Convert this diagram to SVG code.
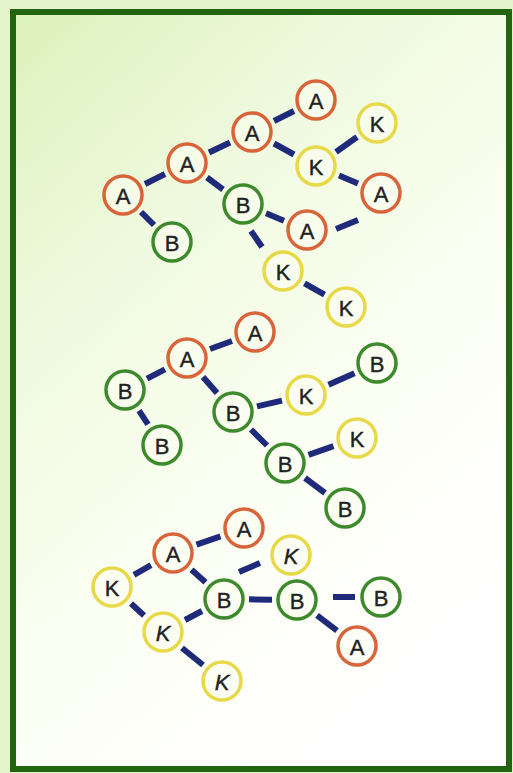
<svg xmlns="http://www.w3.org/2000/svg" width="513" height="773" viewBox="0 0 513 773">
<defs>
<linearGradient id="bg" x1="0" y1="0" x2="0.6" y2="1">
<stop offset="0" stop-color="#dcf2bb"/>
<stop offset="0.35" stop-color="#f0fae0"/>
<stop offset="0.7" stop-color="#fcfff4"/>
<stop offset="1" stop-color="#ffffff"/>
</linearGradient>
<style>
.n circle{stroke-width:3.5;fill:#fbfdf0;fill-opacity:0.6}
.a circle{stroke:#d9643a}
.b circle{stroke:#3d8a2c}
.k circle{stroke:#e8d948}
.n text{font-family:"Liberation Sans",Arial,sans-serif;font-size:22px;fill:#222;stroke:#222;stroke-width:0.4;text-anchor:middle;dominant-baseline:central}
.i text{font-style:italic}
#edges line{stroke:#1f2a7a;stroke-width:6;stroke-linecap:butt}
</style>
</defs>
<rect x="0" y="0" width="513" height="773" fill="#e4f5cc"/>
<rect x="13" y="12" width="496" height="757" fill="url(#bg)" stroke="#236410" stroke-width="6"/>
<g id="edges">
<!-- tree 1 -->
<line x1="145" y1="184" x2="165" y2="174"/>
<line x1="141" y1="212" x2="154" y2="225"/>
<line x1="209" y1="152.5" x2="230" y2="142.5"/>
<line x1="207" y1="177.5" x2="223" y2="189.5"/>
<line x1="274" y1="121" x2="294" y2="111"/>
<line x1="274" y1="143.5" x2="294" y2="154.5"/>
<line x1="336" y1="152" x2="357" y2="137"/>
<line x1="339" y1="175.5" x2="358" y2="183.5"/>
<line x1="266" y1="213.3" x2="284" y2="220.7"/>
<line x1="251" y1="231" x2="262" y2="247"/>
<line x1="336" y1="229" x2="358" y2="220"/>
<line x1="304.5" y1="283.3" x2="324.5" y2="294.7"/>
<!-- tree 2 -->
<line x1="210" y1="349" x2="232" y2="341"/>
<line x1="165" y1="369.3" x2="147" y2="378.7"/>
<line x1="139" y1="410.7" x2="148" y2="424.3"/>
<line x1="203" y1="377" x2="217" y2="393"/>
<line x1="257" y1="406.4" x2="282" y2="400.6"/>
<line x1="328.5" y1="384.8" x2="354.5" y2="373.2"/>
<line x1="251" y1="429.5" x2="267" y2="445.5"/>
<line x1="308.5" y1="454.8" x2="333.5" y2="446.2"/>
<line x1="305" y1="478" x2="325" y2="493"/>
<!-- tree 3 -->
<line x1="134" y1="574.8" x2="151" y2="565.2"/>
<line x1="196.5" y1="544.7" x2="220.5" y2="536.3"/>
<line x1="191.5" y1="569.7" x2="205.5" y2="582.3"/>
<line x1="239" y1="572" x2="260" y2="563"/>
<line x1="249" y1="599.3" x2="272" y2="599.7"/>
<line x1="333" y1="597" x2="355" y2="597"/>
<line x1="317" y1="615.3" x2="337" y2="630.7"/>
<line x1="131" y1="603.5" x2="144" y2="615.5"/>
<line x1="185" y1="620" x2="202" y2="611"/>
<line x1="182" y1="648" x2="203" y2="665"/>
</g>
<!-- tree 1 nodes -->
<g id="t1a1" class="n a"><circle cx="123" cy="195" r="19"/><text x="123" y="196">A</text></g>
<g id="t1b1" class="n b"><circle cx="172" cy="242" r="19"/><text x="172" y="243">B</text></g>
<g id="t1a2" class="n a"><circle cx="187" cy="163" r="19"/><text x="187" y="164">A</text></g>
<g id="t1a3" class="n a"><circle cx="252" cy="132" r="19"/><text x="252" y="133">A</text></g>
<g id="t1a4" class="n a"><circle cx="316" cy="100" r="19"/><text x="316" y="101">A</text></g>
<g id="t1k1" class="n k"><circle cx="377" cy="123" r="19"/><text x="377" y="124">K</text></g>
<g id="t1k2" class="n k"><circle cx="316" cy="166" r="19"/><text x="316" y="167">K</text></g>
<g id="t1a5" class="n a"><circle cx="381" cy="193" r="19"/><text x="381" y="194">A</text></g>
<g id="t1b2" class="n b"><circle cx="243" cy="204" r="19"/><text x="243" y="205">B</text></g>
<g id="t1a6" class="n a"><circle cx="307" cy="230" r="19"/><text x="307" y="231">A</text></g>
<g id="t1k3" class="n k"><circle cx="283" cy="271" r="19"/><text x="283" y="272">K</text></g>
<g id="t1k4" class="n k"><circle cx="346" cy="307" r="19"/><text x="346" y="308">K</text></g>
<!-- tree 2 nodes -->
<g id="t2a1" class="n a"><circle cx="187" cy="358" r="19"/><text x="187" y="359">A</text></g>
<g id="t2a2" class="n a"><circle cx="255" cy="332" r="19"/><text x="255" y="333">A</text></g>
<g id="t2b1" class="n b"><circle cx="125" cy="390" r="19"/><text x="125" y="391">B</text></g>
<g id="t2b2" class="n b"><circle cx="162" cy="445" r="19"/><text x="162" y="446">B</text></g>
<g id="t2b3" class="n b"><circle cx="233" cy="412" r="19"/><text x="233" y="413">B</text></g>
<g id="t2k1" class="n k"><circle cx="306" cy="395" r="19"/><text x="306" y="396">K</text></g>
<g id="t2b4" class="n b"><circle cx="377" cy="363" r="19"/><text x="377" y="364">B</text></g>
<g id="t2b5" class="n b"><circle cx="285" cy="463" r="19"/><text x="285" y="464">B</text></g>
<g id="t2k2" class="n k"><circle cx="357" cy="438" r="19"/><text x="357" y="439">K</text></g>
<g id="t2b6" class="n b"><circle cx="345" cy="508" r="19"/><text x="345" y="509">B</text></g>
<!-- tree 3 nodes -->
<g id="t3a1" class="n a"><circle cx="173" cy="553" r="19"/><text x="173" y="554">A</text></g>
<g id="t3a2" class="n a"><circle cx="244" cy="528" r="19"/><text x="244" y="529">A</text></g>
<g id="t3k1" class="n k"><circle cx="112" cy="587" r="19"/><text x="112" y="588">K</text></g>
<g id="t3k2" class="n k i"><circle cx="291" cy="555" r="19"/><text x="291" y="556">K</text></g>
<g id="t3b1" class="n b"><circle cx="224" cy="599" r="19"/><text x="224" y="600">B</text></g>
<g id="t3b2" class="n b"><circle cx="297" cy="600" r="19"/><text x="297" y="601">B</text></g>
<g id="t3b3" class="n b"><circle cx="381" cy="597" r="19"/><text x="381" y="598">B</text></g>
<g id="t3a3" class="n a"><circle cx="357" cy="646" r="19"/><text x="357" y="647">A</text></g>
<g id="t3k3" class="n k i"><circle cx="163" cy="632" r="19"/><text x="163" y="633">K</text></g>
<g id="t3k4" class="n k i"><circle cx="222" cy="681" r="19"/><text x="222" y="682">K</text></g>
</svg>
